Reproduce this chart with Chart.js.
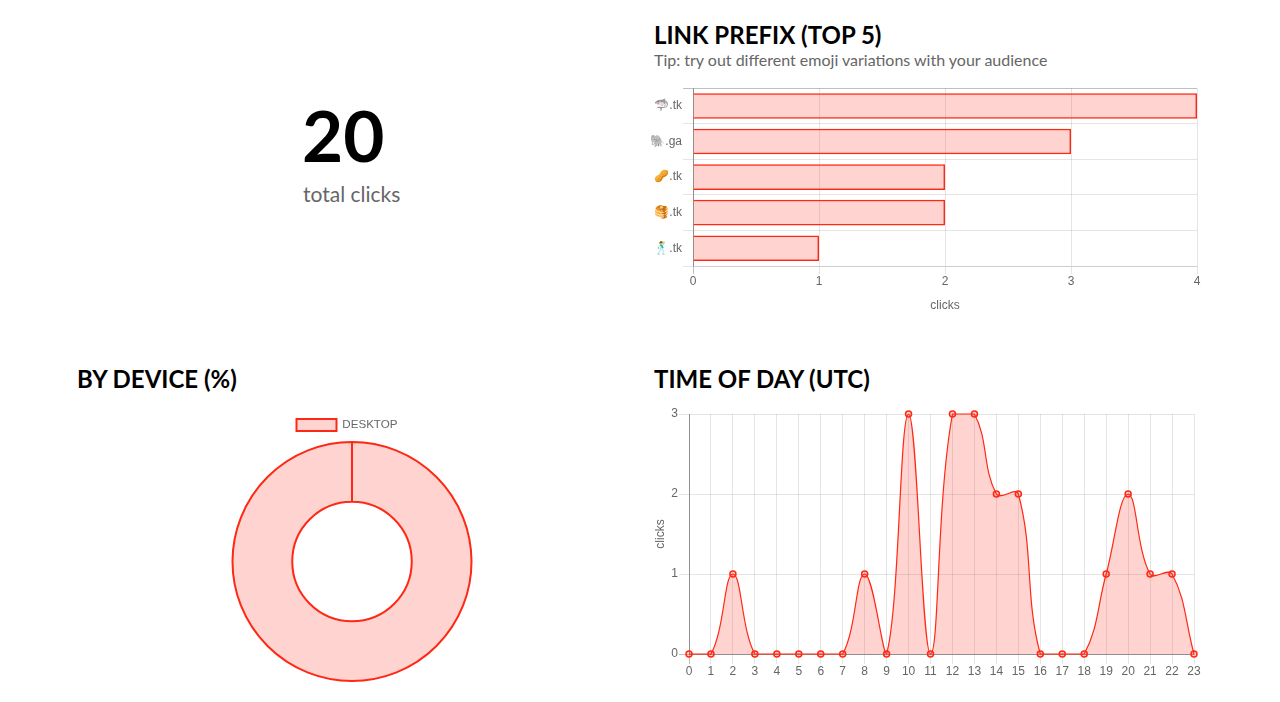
<!DOCTYPE html>
<html>
<head>
<meta charset="utf-8">
<title>Link stats</title>
<script src="https://cdn.jsdelivr.net/npm/chart.js@4"></script>
<style>
    html, body { margin: 0; padding: 0; background: #fff; overflow: hidden; }
    body { width: 1280px; height: 702px; position: relative; font-family: Lato, sans-serif; }
    h2 { position: absolute; margin: 0; font-size: 24px; line-height: 30px; font-weight: 700; color: #000; white-space: nowrap; }
    p { position: absolute; margin: 0; color: #666; white-space: nowrap; }
    canvas { position: absolute; }
</style>
</head>
<body>
    <p style="left:302px;top:91px;font-size:71px;line-height:88px;font-weight:700;color:#000">20</p>
    <p style="left:303px;top:180px;font-size:21px;line-height:28px">total clicks</p>

    <h2 style="left:654px;top:20px">LINK PREFIX (TOP 5)</h2>
    <p style="left:654px;top:50px;font-size:16px;line-height:20px">Tip: try out different emoji variations with your audience</p>
    <canvas id="prefixChart" style="left:640px;top:80px"></canvas>

    <h2 style="left:77px;top:364px">BY DEVICE (%)</h2>
    <canvas id="deviceChart" style="left:60px;top:409px"></canvas>

    <h2 style="left:654px;top:364px">TIME OF DAY (UTC)</h2>
    <canvas id="hourChart" style="left:640px;top:400px"></canvas>

<script>
const prefixLabels = ["🦈.tk", "🐘.ga", "🥜.tk", "🥞.tk", "🕺.tk"];
const prefixClicks = [4, 3, 2, 2, 1];

const deviceLabels = ["DESKTOP"];
const deviceShare = [100];

const hourLabels = ["0", "1", "2", "3", "4", "5", "6", "7", "8", "9", "10", "11", "12", "13", "14", "15", "16", "17", "18", "19", "20", "21", "22", "23"];
const hourClicks = [0, 0, 1, 0, 0, 0, 0, 0, 1, 0, 3, 0, 3, 3, 2, 2, 0, 0, 0, 1, 2, 1, 1, 0];

const RED = "rgb(255, 40, 20)";
const PINK = "rgba(255, 40, 20, 0.2)";
const GRID = "rgba(0, 0, 0, 0.1)";
const AXIS = "rgba(0, 0, 0, 0.25)";

Chart.defaults.font.family = "'Liberation Sans', Helvetica, Arial, sans-serif";
Chart.defaults.font.size = 12;
Chart.defaults.color = "#666";
Chart.defaults.animation = false;
Chart.defaults.responsive = false;

function sizeCanvas(id, w, h) {
    const canvas = document.getElementById(id);
    canvas.width = w;
    canvas.height = h;
    canvas.style.width = w + "px";
    canvas.style.height = h + "px";
    return canvas.getContext("2d");
}

// first grid line is the darker "zero" line
function gridColor(ctx) {
    return ctx.index === 0 ? AXIS : GRID;
}

new Chart(sizeCanvas("prefixChart", 570, 240), {
    type: "bar",
    data: {
        labels: prefixLabels,
        datasets: [{
            data: prefixClicks,
            backgroundColor: PINK,
            borderColor: RED,
            borderWidth: 1.5
        }]
    },
    options: {
        indexAxis: "y",
        layout: { padding: { top: 8, right: 13 } },
        plugins: { legend: { display: false } },
        scales: {
            x: {
                beginAtZero: true,
                ticks: { stepSize: 1, padding: 0 },
                title: { display: true, text: "clicks", padding: { top: 6, bottom: 7 } },
                grid: { color: gridColor, tickLength: 8 },
                border: { color: GRID },
                afterFit: scale => { scale.height = 54; }
            },
            y: {
                ticks: { padding: 1 },
                grid: { color: gridColor, tickLength: 10 },
                border: { color: AXIS },
                afterFit: scale => { scale.width = 53; }
            }
        }
    }
});

new Chart(sizeCanvas("deviceChart", 584, 273), {
    type: "doughnut",
    data: {
        labels: deviceLabels,
        datasets: [{
            data: deviceShare,
            backgroundColor: PINK,
            borderColor: RED,
            borderWidth: 2
        }]
    },
    options: {
        cutout: "50%",
        plugins: {
            legend: { position: "top", labels: { boxWidth: 40, boxHeight: 12, padding: 10, font: { size: 11.6 } } }
        }
    },
    plugins: [{
        // legend sits a little left of the ring
        id: "legendShift",
        afterLayout(chart) {
            chart.legend.left -= 5;
            chart.legend.right -= 5;
        }
    }]
});

new Chart(sizeCanvas("hourChart", 570, 285), {
    type: "line",
    data: {
        labels: hourLabels,
        datasets: [{
            data: hourClicks,
            fill: true,
            tension: 0.4,
            clip: false,
            backgroundColor: PINK,
            borderColor: RED,
            borderWidth: 1.2,
            pointRadius: 3,
            pointBorderWidth: 1.5,
            pointBackgroundColor: PINK,
            pointBorderColor: RED
        }]
    },
    options: {
        layout: { padding: { top: 14, right: 16 } },
        plugins: { legend: { display: false } },
        scales: {
            x: {
                ticks: { autoSkip: false, maxRotation: 0, padding: 0 },
                grid: { color: gridColor, tickLength: 10 },
                border: { color: AXIS },
                afterFit: scale => { scale.height = 31; }
            },
            y: {
                beginAtZero: true,
                max: 3,
                ticks: { stepSize: 1, padding: 1 },
                title: { display: true, text: "clicks", padding: { top: 13, bottom: 0 } },
                grid: { color: gridColor, tickLength: 10 },
                border: { color: AXIS },
                afterFit: scale => { scale.width = 49; }
            }
        }
    }
});
</script>
</body>
</html>
